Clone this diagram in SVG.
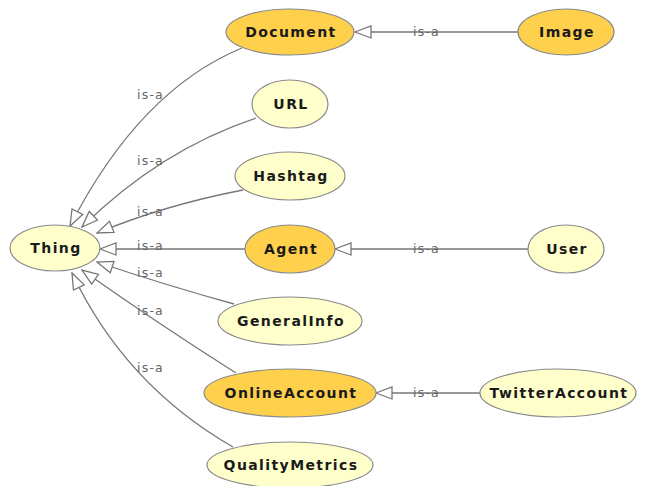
<svg xmlns="http://www.w3.org/2000/svg" width="646" height="486" viewBox="0 0 646 486">
<style>
.bg{fill:#ffffff}
.n ellipse{stroke:#8a8a8a;stroke-width:1.2}
.lt{fill:#ffffcc}
.dk{fill:#ffd04c}
.n text{font-family:"DejaVu Sans",Verdana,sans-serif;font-weight:bold;font-size:14px;letter-spacing:1.4px;fill:#1a1a1a;text-anchor:middle}
.e path{fill:none;stroke:#777777;stroke-width:1.3;marker-end:url(#tri)}
.e text{font-family:"DejaVu Sans",Verdana,sans-serif;font-size:12.5px;letter-spacing:1.2px;fill:#666666}
</style>
<defs>
<marker id="tri" viewBox="0 0 18 14" refX="17" refY="7" markerWidth="18" markerHeight="14" markerUnits="userSpaceOnUse" orient="auto">
<path d="M1,1 L17,7 L1,13 Z" fill="#ffffff" stroke="#777777" stroke-width="1.3"/>
</marker>
</defs>
<rect class="bg" x="0" y="0" width="646" height="486"/>
<g id="connectors" class="e">
<path d="M242,48 Q140,90 70,226"/>
<path d="M256,118 Q160,150 82,227"/>
<path d="M243,190 Q165,205 97,233"/>
<path d="M245,249 L100,249"/>
<path d="M234,304 Q165,285 97,262"/>
<path d="M236,373 Q160,325 82,270"/>
<path d="M233,447 Q125,385 72,273"/>
<path d="M518,32 L355,32"/>
<path d="M528,249 L335,249"/>
<path d="M480,393 L376,393"/>
<text x="137" y="99">is-a</text>
<text x="137" y="165">is-a</text>
<text x="137" y="216">is-a</text>
<text x="137" y="250">is-a</text>
<text x="137" y="277">is-a</text>
<text x="137" y="315">is-a</text>
<text x="137" y="372">is-a</text>
<text x="413" y="36">is-a</text>
<text x="413" y="253">is-a</text>
<text x="413" y="397">is-a</text>
</g>
<g id="Thing" class="n"><ellipse class="lt" cx="55" cy="248" rx="45" ry="23"/><text x="56" y="253">Thing</text></g>
<g id="Document" class="n"><ellipse class="dk" cx="290" cy="32" rx="64" ry="23"/><text x="291" y="37">Document</text></g>
<g id="Image" class="n"><ellipse class="dk" cx="566" cy="32" rx="48" ry="23"/><text x="567" y="37">Image</text></g>
<g id="URL" class="n"><ellipse class="lt" cx="290" cy="104" rx="38" ry="24"/><text x="291" y="109">URL</text></g>
<g id="Hashtag" class="n"><ellipse class="lt" cx="290" cy="176" rx="55" ry="24"/><text x="291" y="181">Hashtag</text></g>
<g id="Agent" class="n"><ellipse class="dk" cx="290" cy="249" rx="45" ry="24"/><text x="291" y="254">Agent</text></g>
<g id="User" class="n"><ellipse class="lt" cx="566" cy="249" rx="38" ry="24"/><text x="567" y="254">User</text></g>
<g id="GeneralInfo" class="n"><ellipse class="lt" cx="290" cy="321" rx="72" ry="24"/><text x="291" y="326">GeneralInfo</text></g>
<g id="OnlineAccount" class="n"><ellipse class="dk" cx="290" cy="393" rx="86" ry="24"/><text x="291" y="398">OnlineAccount</text></g>
<g id="TwitterAccount" class="n"><ellipse class="lt" cx="558" cy="393" rx="78" ry="24"/><text x="559" y="398">TwitterAccount</text></g>
<g id="QualityMetrics" class="n"><ellipse class="lt" cx="290" cy="465" rx="83" ry="23"/><text x="291" y="470">QualityMetrics</text></g>
</svg>
